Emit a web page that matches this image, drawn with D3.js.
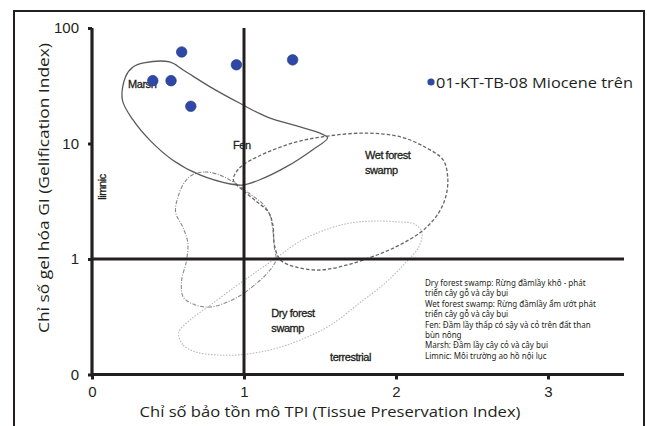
<!DOCTYPE html>
<html>
<head>
  <meta charset="utf-8">
  <title>TPI - GI diagram</title>
  <script src="https://d3js.org/d3.v7.min.js"></script>
  <style>
    body { margin: 0; background: #fff; }
    svg text { fill: #231f20; }
    .tick-lbl { font-family: "Liberation Sans", Arial, sans-serif; font-size: 15px; }
    .title { font-family: "Open Sans", sans-serif; font-size: 15px; }
    .zone { font-family: "Liberation Sans", Arial, sans-serif; font-size: 11px; letter-spacing: -0.45px;
            stroke: #1a1a1a; stroke-width: 0.3px; }
    .note { font-family: "Noto Sans", sans-serif; font-size: 8px; }
  </style>
</head>
<body>
  <div id="chart"></div>
  <script>
    // sample points: TPI, GI
    const sampleName = "01-KT-TB-08 Miocene trên";
    const tpi = [0.59, 1.32, 0.95, 0.40, 0.52, 0.65];
    const gi  = [62, 53, 48, 35, 35, 21];

    const xTicks = [0, 1, 2, 3];
    const yTicks = [0.1, 1, 10, 100];
    const yTickLabels = ["0", "1", "10", "100"];

    // facies fields, [TPI, GI]
    const marshField = [[0.22,37.7],[0.27,45.9],[0.34,49.8],[0.51,50.8],[0.60,43.3],[0.78,30.8],[0.97,22.4],
      [1.15,17.0],[1.37,13.9],[1.50,12.3],[1.55,11.2],[1.45,8.8],[1.28,6.3],[1.10,4.83],[0.99,4.37],
      [0.91,4.46],[0.71,5.34],[0.53,7.2],[0.38,10.7],[0.27,16.0],[0.20,23.8]];
    const wetField = [[0.93,4.83],[0.97,6.14],[1.10,7.8],[1.32,10.1],[1.55,11.6],[1.81,12.3],[2.03,11.4],
      [2.19,9.33],[2.31,7.2],[2.34,5.13],[2.33,3.58],[2.28,2.5],[2.18,1.78],[2.05,1.38],[1.91,1.13],
      [1.70,0.905],[1.50,0.803],[1.34,0.853],[1.24,0.98],[1.20,1.32],[1.19,1.97],[1.16,2.55],[1.07,3.24],[0.99,3.96]];
    const fenField = [[0.66,5.34],[0.74,5.67],[0.84,5.34],[0.94,4.55],[1.04,3.65],[1.13,2.94],[1.17,2.4],
      [1.19,1.78],[1.20,1.25],[1.21,0.98],[1.16,0.771],[1.07,0.596],[0.97,0.478],[0.875,0.416],[0.78,0.384],
      [0.68,0.40],[0.60,0.469],[0.59,0.658],[0.62,0.942],[0.63,1.38],[0.60,1.86],[0.55,2.55],[0.57,3.58],[0.61,4.64]];
    const dryField = [[0.57,0.229],[0.60,0.18],[0.68,0.157],[0.81,0.148],[0.97,0.148],[1.17,0.163],[1.37,0.199],
      [1.57,0.268],[1.76,0.416],[1.93,0.62],[2.06,0.923],[2.15,1.27],[2.17,1.71],[2.12,2.01],[2.03,2.09],
      [1.86,2.13],[1.70,2.05],[1.53,1.78],[1.37,1.43],[1.22,1.04],[1.07,0.757],[0.94,0.573],[0.78,0.40],[0.645,0.296]];

    const zoneLabels = [
      { text: ["Marsh"], x: 0.237, y: 30.5 },
      { text: ["Fen"], x: 0.928, y: 9.0 },
      { text: ["Wet forest", "swamp"], x: 1.796, y: 7.3 },
      { text: ["Dry forest", "swamp"], x: 1.18, y: 0.315 },
      { text: ["terrestrial"], x: 1.566, y: 0.131 }
    ];

    const notes = [
      "Dry forest swamp: Rừng đầmlầy khô - phát",
      "triển cây gỗ và cây bụi",
      "Wet forest swamp: Rừng đầmlầy ẩm ướt phát",
      "triển cây gỗ và cây bụi",
      "Fen:  Đầm lầy thấp có sậy và cỏ trên đất than",
      "bùn nông",
      "Marsh: Đầm lầy cây cỏ và cây bụi",
      "Limnic:   Môi trường ao hồ nội lục"
    ];

    const W = 647, H = 426;
    const svg = d3.select("#chart").append("svg")
      .attr("width", W).attr("height", H);

    // outer frame
    svg.append("rect")
      .attr("x", 14).attr("y", 11).attr("width", 630).attr("height", 440)
      .attr("fill", "none").attr("stroke", "#231f20").attr("stroke-width", 2);

    const x = d3.scaleLinear().domain([0, 3.5]).range([92, 624]);
    const y = d3.scaleLog().domain([0.1, 100]).range([374.5, 28]);

    const line = d3.line()
      .x(d => x(d[0])).y(d => y(d[1]))
      .curve(d3.curveCatmullRomClosed.alpha(0.5));

    const fields = [
      { data: dryField, stroke: "#b8b8b8", dash: "1.5,1.5", w: 1.1 },
      { data: fenField, stroke: "#8a8a8a", dash: "4,1.5,1,1.5", w: 1.1 },
      { data: wetField, stroke: "#666", dash: "3.5,2", w: 1.3 },
      { data: marshField, stroke: "#5a5a5a", dash: null, w: 1.3 }
    ];
    svg.selectAll("path.field")
      .data(fields)
      .join("path")
      .attr("class", "field")
      .attr("d", d => line(d.data))
      .attr("fill", "none")
      .attr("stroke", d => d.stroke)
      .attr("stroke-width", d => d.w)
      .attr("stroke-dasharray", d => d.dash);

    // zone labels
    zoneLabels.forEach(z => {
      const t = svg.append("text").attr("class", "zone")
        .attr("x", x(z.x)).attr("y", y(z.y));
      z.text.forEach((s, i) => t.append("tspan").attr("x", x(z.x)).attr("dy", i ? 15 : 0).text(s));
    });
    svg.append("text").attr("class", "zone")
      .attr("transform", `translate(${x(0.095)},${y(4.2)}) rotate(-90)`)
      .attr("text-anchor", "middle")
      .text("limnic");

    // quadrant lines
    const ink = "#231f20";
    svg.append("line")
      .attr("x1", x(0)).attr("x2", x(3.5)).attr("y1", y(1)).attr("y2", y(1))
      .attr("stroke", ink).attr("stroke-width", 3);
    svg.append("line")
      .attr("x1", x(1)).attr("x2", x(1)).attr("y1", y(100)).attr("y2", y(0.1))
      .attr("stroke", ink).attr("stroke-width", 3);

    // axes
    const xAxis = svg.append("g").attr("transform", `translate(0,${y(0.1)})`)
      .call(d3.axisBottom(x).tickValues(xTicks).tickSize(5).tickPadding(4).tickFormat(d3.format("d")));
    const yAxis = svg.append("g").attr("transform", `translate(${x(0)},0)`)
      .call(d3.axisLeft(y).tickValues(yTicks).tickSize(4).tickPadding(9).tickFormat((d, i) => yTickLabels[i]));
    [xAxis, yAxis].forEach(g => {
      g.select(".domain").attr("stroke", ink).attr("stroke-width", 3.2);
      g.selectAll(".tick line").attr("stroke", ink).attr("stroke-width", 3);
      g.selectAll(".tick text").attr("class", "tick-lbl").attr("fill", ink);
    });
    xAxis.select(".domain").attr("d", `M${x(0)},0H${x(3.5)}`);
    yAxis.select(".domain").attr("d", `M0,${y(100)}V${y(0.1)}`);
    yAxis.selectAll(".tick text").attr("dy", "0.3em");
    xAxis.selectAll(".tick text").attr("dy", "0.9em");

    // axis titles
    svg.append("text").attr("class", "title")
      .attr("x", 330).attr("y", 417).attr("text-anchor", "middle")
      .attr("textLength", 381).attr("lengthAdjust", "spacingAndGlyphs")
      .text("Chỉ số bảo tồn mô TPI (Tissue Preservation Index)");
    svg.append("text").attr("class", "title")
      .attr("transform", "translate(49,188) rotate(-90)")
      .attr("text-anchor", "middle")
      .attr("textLength", 290).attr("lengthAdjust", "spacingAndGlyphs")
      .text("Chỉ số gel hóa GI (Gelification Index)");

    // notes block
    const nt = svg.append("text").attr("class", "note");
    notes.forEach((s, i) => nt.append("tspan").attr("x", 425).attr("y", 286 + i * 10.4).text(s));

    // points
    const pts = tpi.map((v, i) => [v, gi[i]]);
    svg.selectAll("circle.pt")
      .data(pts)
      .join("circle")
      .attr("class", "pt")
      .attr("cx", d => x(d[0])).attr("cy", d => y(d[1]))
      .attr("r", 5.3)
      .attr("fill", "#2f48a5")
      .attr("stroke", "#22378a").attr("stroke-width", 0.6);

    // legend
    svg.append("circle").attr("cx", 431).attr("cy", 82).attr("r", 3.6).attr("fill", "#2f48a5");
    svg.append("text").attr("class", "title")
      .attr("x", 436).attr("y", 87.5).style("font-size", "15px")
      .attr("textLength", 197).attr("lengthAdjust", "spacingAndGlyphs")
      .text(sampleName);
  </script>
</body>
</html>
